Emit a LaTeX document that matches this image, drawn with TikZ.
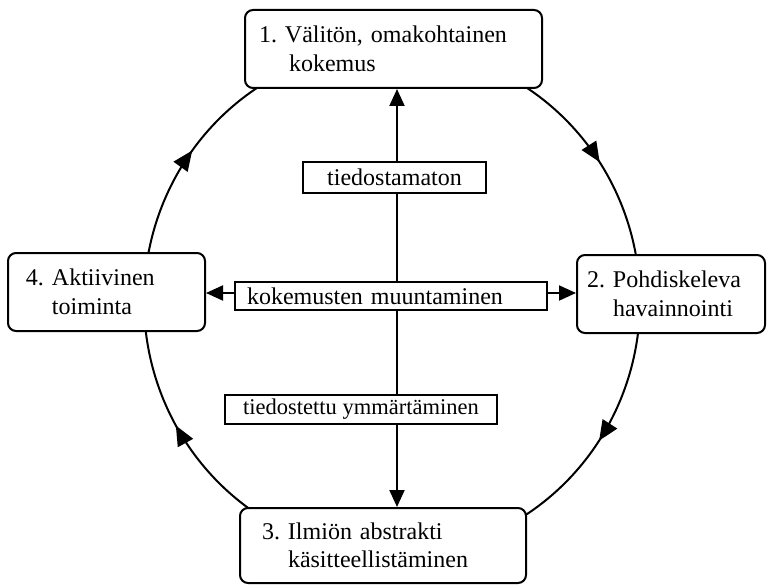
\documentclass[tikz,border=0pt]{standalone}
\usepackage{fontspec}
\setmainfont{Liberation Serif}
\usetikzlibrary{arrows.meta,decorations.markings,backgrounds}
\frenchspacing
\begin{document}
\begin{tikzpicture}[x=1pt,y=-1pt,
  txt/.style={font=\fontsize{24}{28.5}\selectfont},
  stage/.style={txt, draw, line width=2pt, rounded corners=8pt, fill=white, align=left, inner ysep=0pt},
  lbl/.style={txt, draw, line width=2pt, fill=white, inner ysep=0pt},
  conn/.style={line width=2pt},
  cyc/.style={line width=2pt, postaction={decorate},
    decoration={markings, mark=at position 0.5 with {\arrow{Triangle[length=20pt,width=17pt]}}}}
]
\useasboundingbox (0,0) rectangle (772,586);

\node[stage, minimum width=297pt, minimum height=78pt, inner xsep=14pt, text width=269pt] (top) at (393.5,49)
  {1. Välitön, omakohtainen\\\hspace*{30pt}kokemus};
\node[stage, minimum width=197pt, minimum height=78pt, inner xsep=18pt, text width=161pt] (left) at (106.5,292)
  {4. Aktiivinen\\\hspace*{26pt}toiminta};
\node[stage, minimum width=188pt, minimum height=78pt, inner xsep=10pt, text width=168pt] (right) at (671,294)
  {2. Pohdiskeleva\\\hspace*{26pt}havainnointi};
\node[stage, minimum width=286pt, minimum height=75pt, inner xsep=22pt, text width=242pt] (bot) at (383,545.5)
  {3. Ilmiön abstrakti\\\hspace*{26pt}käsitteellistäminen};

\node[lbl, minimum width=183pt, minimum height=31pt, align=center] (l1) at (394.5,177) {tiedostamaton};
\node[lbl, minimum width=312pt, minimum height=28pt, inner xsep=12pt, text width=288pt, align=left] (l2) at (391,296) {kokemusten muuntaminen};
\node[lbl, minimum width=272pt, minimum height=29pt, align=center, font=\fontsize{22.5}{27}\selectfont] (l3) at (361,409.5) {tiedostettu ymmärtäminen};

\coordinate (vx) at (397,0);
\coordinate (hy) at (0,293);
\coordinate (c) at (392,301);

\begin{scope}[on background layer]
  \draw[conn, {Triangle[length=17pt,width=15pt]}-{Triangle[length=17pt,width=15pt]}] (bot.north -| vx) -- (top.south -| vx);
  \draw[conn, {Triangle[length=17pt,width=15pt]}-{Triangle[length=17pt,width=15pt]}] (left.east |- hy) -- (right.west |- hy);
  \draw[cyc] (c) ++(-58:248 and 254) arc[start angle=-58, end angle=-8.5, x radius=248, y radius=254];
  \draw[cyc] (c) ++(5:248 and 254) arc[start angle=5, end angle=62, x radius=248, y radius=254];
  \draw[cyc] (c) ++(120:248 and 254) arc[start angle=120, end angle=181, x radius=248, y radius=254];
  \draw[cyc] (c) ++(185:248 and 254) arc[start angle=185, end angle=248, x radius=248, y radius=254];
\end{scope}
\end{tikzpicture}
\end{document}
